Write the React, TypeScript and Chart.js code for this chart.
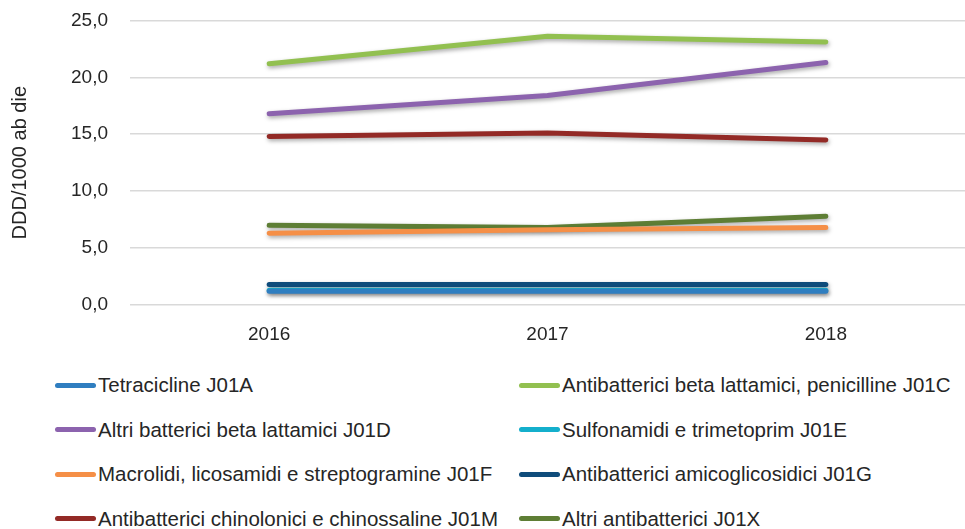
import React, { useEffect, useRef } from "react";
import { Chart, registerables } from "chart.js";

Chart.register(...registerables);

const years = ["2016", "2017", "2018"];
const seriesNames = [
  "Tetracicline J01A",
  "Antibatterici beta lattamici, penicilline J01C",
  "Altri batterici beta lattamici J01D",
  "Sulfonamidi e trimetoprim J01E",
  "Macrolidi, licosamidi e streptogramine J01F",
  "Antibatterici amicoglicosidici J01G",
  "Antibatterici chinolonici e chinossaline J01M",
  "Altri antibatterici J01X",
];
const j01a = [1.2, 1.2, 1.2];
const j01c = [21.2, 23.6, 23.1];
const j01d = [16.8, 18.4, 21.3];
const j01e = [1.3, 1.3, 1.3];
const j01f = [6.3, 6.6, 6.8];
const j01g = [1.8, 1.8, 1.8];
const j01m = [14.8, 15.1, 14.5];
const j01x = [7.0, 6.8, 7.8];
const seriesValues = [j01a, j01c, j01d, j01e, j01f, j01g, j01m, j01x];
const seriesColors = [
  "#2f7ec0",
  "#92c050",
  "#8c63ae",
  "#14afcc",
  "#f58f47",
  "#0f4c7b",
  "#932a26",
  "#5e7e35",
];
// draw order: lower ones later so overlaps look like reference
const drawOrder = [0, 3, 5, 4, 7, 6, 2, 1];
const yTicks = [0, 5, 10, 15, 20, 25];
const yTitle = "DDD/1000 ab die";

const FONT = "'Liberation Sans', Arial, sans-serif";
const TEXT_COLOR = "#262626";

const shadowPlugin = {
  id: "lineShadow",
  beforeDatasetsDraw(chart: any) {
    const ctx = chart.ctx;
    ctx.save();
    ctx.shadowColor = "rgba(0,0,0,0.35)";
    ctx.shadowBlur = 4;
    ctx.shadowOffsetX = 1;
    ctx.shadowOffsetY = 2;
  },
  afterDatasetsDraw(chart: any) {
    chart.ctx.restore();
  },
};

export default function App() {
  const ref = useRef<HTMLCanvasElement>(null);
  useEffect(() => {
    if (!ref.current) return;
    const chart = new Chart(ref.current, {
      type: "line",
      data: {
        labels: years,
        datasets: drawOrder.map((i) => ({
          label: seriesNames[i],
          data: seriesValues[i],
          borderColor: seriesColors[i],
          backgroundColor: seriesColors[i],
          borderWidth: 5,
          borderCapStyle: "round" as const,
          borderJoinStyle: "round" as const,
          pointRadius: 0,
          tension: 0,
        })),
      },
      options: {
        animation: false,
        responsive: false,
        maintainAspectRatio: false,
        layout: { padding: { top: 8, left: 0, right: 0, bottom: 0 } },
        plugins: { legend: { display: false }, tooltip: { enabled: false } },
        scales: {
          x: {
            offset: true,
            grid: { display: false, drawTicks: false },
            border: { display: false },
            ticks: { color: TEXT_COLOR, font: { family: FONT, size: 19 }, padding: 18 },
            afterFit: (s: any) => {
              s.height = 45;
            },
          },
          y: {
            min: 0,
            max: 25,
            afterBuildTicks: (s: any) => {
              s.ticks = yTicks.map((v) => ({ value: v }));
            },
            grid: { color: "#d9d9d9", lineWidth: 1.5, drawTicks: false },
            border: { display: false },
            ticks: {
              color: TEXT_COLOR,
              font: { family: FONT, size: 19 },
              padding: 22,
              callback: (v: any) => Number(v).toFixed(1).replace(".", ","),
            },
            title: {
              display: true,
              text: yTitle,
              color: TEXT_COLOR,
              font: { family: FONT, size: 20 },
              padding: { top: 8, bottom: 0 },
            },
            afterFit: (s: any) => {
              s.width = 130;
            },
          },
        },
      },
      plugins: [shadowPlugin],
    });
    return () => chart.destroy();
  }, []);

  return (
    <div
      style={{
        position: "absolute",
        left: 0,
        top: 0,
        width: 965,
        height: 529,
        background: "#fff",
        overflow: "hidden",
      }}
    >
      <canvas
        ref={ref}
        width={965}
        height={363}
        style={{ display: "block", position: "absolute", left: 0, top: -13 }}
      />
      {seriesNames.map((name, i) => {
        const col = i % 2;
        const row = Math.floor(i / 2);
        return (
          <div
            key={name}
            style={{
              position: "absolute",
              left: col === 0 ? 55 : 519,
              top: 385 + row * 44.5 - 12,
              height: 24,
              display: "flex",
              alignItems: "center",
              whiteSpace: "nowrap",
              fontFamily: FONT,
              fontSize: 20.5,
              color: TEXT_COLOR,
            }}
          >
            <span
              style={{
                display: "inline-block",
                width: 41,
                height: 5,
                borderRadius: 3,
                background: seriesColors[i],
                marginRight: 2,
              }}
            />
            <span>{name}</span>
          </div>
        );
      })}
    </div>
  );
}
